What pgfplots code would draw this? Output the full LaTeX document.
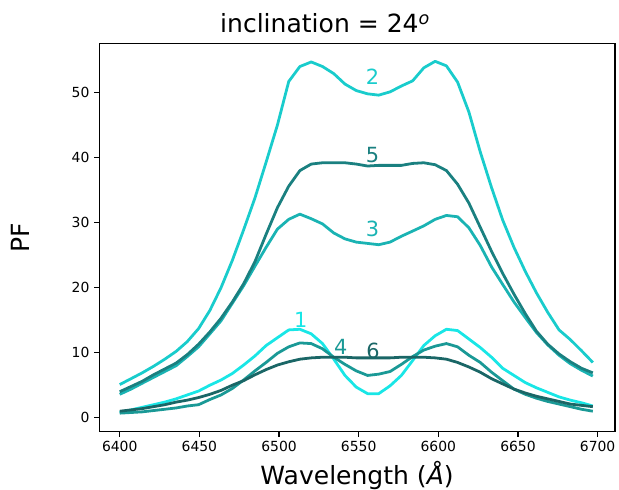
\documentclass[border=0pt]{standalone}
\usepackage{fontspec}
\setmainfont{DejaVu Sans}
\usepackage{pgfplots}
\usepackage{pgfplotstable}
\pgfplotsset{compat=1.18}

\definecolor{cA}{RGB}{25,230,230}
\definecolor{cB}{RGB}{25,204,204}
\definecolor{cC}{RGB}{26,179,179}
\definecolor{cD}{RGB}{26,153,150}
\definecolor{cE}{RGB}{26,128,128}
\definecolor{cF}{RGB}{26,102,102}

% wavelength, then PF for profiles 1..6
\pgfplotstableread{
lam    p1   p2   p3   p4   p5   p6
6400.0 0.8  5.1  3.6  0.7  4.0  1.0
6407.1 1.2  6.0  4.4  0.8  4.8  1.2
6414.1 1.6  6.9  5.3  0.9  5.6  1.4
6421.2 2.0  7.9  6.2  1.1  6.6  1.7
6428.3 2.4  9.0  7.1  1.3  7.5  2.0
6435.4 2.9  10.2 8.0  1.5  8.4  2.4
6442.4 3.5  11.7 9.4  1.8  9.7  2.7
6449.5 4.1  13.7 10.9 2.0  11.3 3.1
6456.6 5.0  16.5 12.9 2.8  13.2 3.6
6463.6 5.8  20.0 14.9 3.5  15.3 4.2
6470.7 6.8  24.2 17.6 4.5  17.8 5.0
6477.8 8.1  28.9 20.3 5.8  20.6 5.7
6484.9 9.5  33.8 23.3 7.2  24.0 6.6
6491.9 11.1 39.3 26.2 8.5  28.2 7.4
6499.0 12.3 45.0 29.0 9.9  32.3 8.1
6506.1 13.5 51.7 30.5 10.9 35.6 8.6
6513.1 13.6 54.0 31.3 11.5 38.0 9.0
6520.2 12.9 54.7 30.6 11.4 39.0 9.2
6527.3 11.4 54.0 29.8 10.6 39.2 9.3
6534.4 9.0  52.9 28.4 9.3  39.2 9.3
6541.4 6.5  51.3 27.5 8.2  39.2 9.3
6548.5 4.7  50.3 27.0 7.2  39.0 9.2
6555.6 3.7  49.8 26.8 6.5  38.7 9.2
6562.6 3.7  49.6 26.6 6.7  38.8 9.2
6569.7 4.9  50.1 27.0 7.1  38.8 9.2
6576.8 6.5  51.0 27.9 8.2  38.8 9.3
6583.9 8.8  51.8 28.7 9.4  39.1 9.3
6590.9 11.1 53.8 29.5 10.4 39.2 9.3
6598.0 12.6 54.8 30.5 11.0 38.9 9.2
6605.1 13.6 54.1 31.1 11.4 38.0 9.0
6612.1 13.4 51.6 30.9 10.9 35.9 8.5
6619.2 12.1 47.0 29.2 9.6  33.0 7.8
6626.3 10.8 40.9 26.5 8.5  29.3 7.0
6633.4 9.3  35.4 23.2 7.0  25.6 6.0
6640.4 7.6  30.4 20.5 5.7  22.2 5.2
6647.5 6.5  26.2 17.8 4.4  19.0 4.4
6654.6 5.4  22.5 15.4 3.6  16.0 3.8
6661.6 4.6  19.2 13.1 3.0  13.3 3.3
6668.7 3.9  16.2 11.2 2.5  11.3 2.9
6675.8 3.2  13.5 9.6  2.1  9.8  2.5
6682.9 2.7  12.0 8.3  1.7  8.6  2.1
6689.9 2.3  10.3 7.3  1.3  7.6  1.9
6697.0 1.8  8.5  6.4  1.0  6.9  1.7
}\profiles

\begin{document}
\begin{tikzpicture}
\useasboundingbox (-71.3pt,-41.8pt) rectangle (373.7pt,310.4pt);
\begin{axis}[
  scale only axis,
  width=370.8pt, height=279.4pt,
  xmin=6387.1, xmax=6710.9,
  ymin=-2.16, ymax=57.6,
  xtick={6400,6450,...,6700},
  ytick={0,10,...,50},
  tick align=outside,
  xtick pos=bottom, ytick pos=left,
  major tick length=3.5pt,
  tick style={black, line width=0.8pt},
  axis line style={line width=0.8pt},
  tick label style={font=\fontsize{10}{12}\selectfont},
  /pgf/number format/assume math mode=true,
  /pgf/number format/1000 sep={},
  xlabel={Wavelength (\textit{Å})},
  ylabel={PF},
  xlabel style={font=\fontsize{18}{20}\selectfont, at={(axis description cs:0.5,-0.075)}, anchor=north, inner sep=0pt},
  ylabel style={font=\fontsize{18}{20}\selectfont, at={(axis description cs:-0.134,0.5)}, anchor=south, inner sep=0pt},
  every axis plot/.append style={line width=2pt, line join=round},
  clip=false,
]
\addplot[cA] table[x=lam,y=p1] {\profiles};
\addplot[cB] table[x=lam,y=p2] {\profiles};
\addplot[cC] table[x=lam,y=p3] {\profiles};
\addplot[cD] table[x=lam,y=p4] {\profiles};
\addplot[cE] table[x=lam,y=p5] {\profiles};
\addplot[cF] table[x=lam,y=p6] {\profiles};

\node[cA, font=\fontsize{15}{15}\selectfont] at (axis cs:6513.7,15.0) {1};
\node[cB, font=\fontsize{15}{15}\selectfont] at (axis cs:6558.7,52.5) {2};
\node[cC, font=\fontsize{15}{15}\selectfont] at (axis cs:6558.7,29.0) {3};
\node[cD, font=\fontsize{15}{15}\selectfont] at (axis cs:6538.8,10.9) {4};
\node[cE, font=\fontsize{15}{15}\selectfont] at (axis cs:6558.7,40.4) {5};
\node[cF, font=\fontsize{15}{15}\selectfont] at (axis cs:6559.0,10.3) {6};

\node[anchor=base, inner sep=0pt, font=\fontsize{18}{20}\selectfont] at (axis description cs:0.438,1.026) {inclination = 24\textsuperscript{\textit{o}}};
\end{axis}
\end{tikzpicture}
\end{document}
